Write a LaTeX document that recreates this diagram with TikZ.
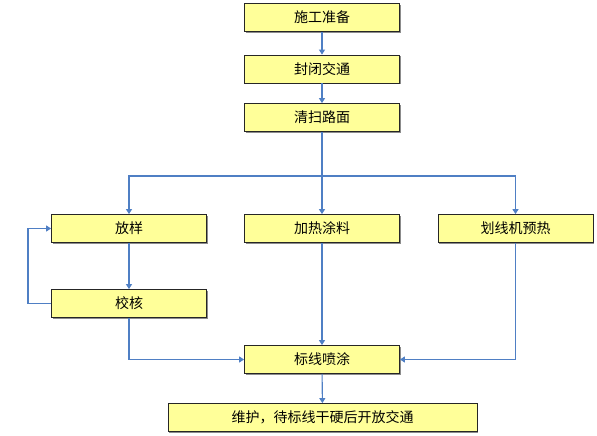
\documentclass[tikz,border=0pt]{standalone}
\usepackage{fontspec}
\newfontfamily\cjk{Noto Sans CJK SC}
\usetikzlibrary{arrows.meta,shadows}
\definecolor{boxfill}{HTML}{FFFF99}
\definecolor{linecol}{HTML}{4F7FC4}
\tikzset{
  stepbox/.style={draw=black!85, line width=0.8pt, fill=boxfill, minimum width=155pt, minimum height=28pt, inner sep=0pt, font=\cjk\fontsize{14}{16}\selectfont, drop shadow={shadow xshift=1.3pt, shadow yshift=-1.3pt, fill=black!45, opacity=1}},
  conn/.style={draw=linecol, line width=1.1pt},
  arr/.style={conn, -{Triangle[width=6pt,length=5pt]}}
}
\begin{document}
\begin{tikzpicture}[x=1pt,y=-1pt]
\useasboundingbox (0,0) rectangle (597,436);
\node[stepbox] (sg) at (322,17.5) {施工准备};
\node[stepbox] (fb) at (322,69) {封闭交通};
\node[stepbox] (qs) at (322,117.5) {清扫路面};
\node[stepbox] (fy) at (129,228.5) {放样};
\node[stepbox] (jr) at (322,228.5) {加热涂料};
\node[stepbox] (hx) at (515.5,228.5) {划线机预热};
\node[stepbox] (jh) at (129,303.5) {校核};
\node[stepbox] (bx) at (322,359.5) {标线喷涂};
\node[stepbox, minimum width=309pt] (wh) at (322.5,417.5) {维护，待标线干硬后开放交通};
\coordinate (br) at (322,176);
\coordinate (fbk) at (28,303.5);
\draw[arr] (sg) -- (fb);
\draw[arr] (fb) -- (qs);
\draw[arr] (qs) -- (jr);
\draw[arr] (br) -| (fy.north);
\draw[arr] (br) -| (hx.north);
\draw[arr] (fy) -- (jh);
\draw[arr] (jh.west) -- (fbk) |- (fy.west);
\draw[arr] (jh.south) |- (bx.west);
\draw[arr] (hx.south) |- (bx.east);
\draw[arr] (jr) -- (bx);
\draw[arr] (bx) -- (wh);
\end{tikzpicture}
\end{document}
